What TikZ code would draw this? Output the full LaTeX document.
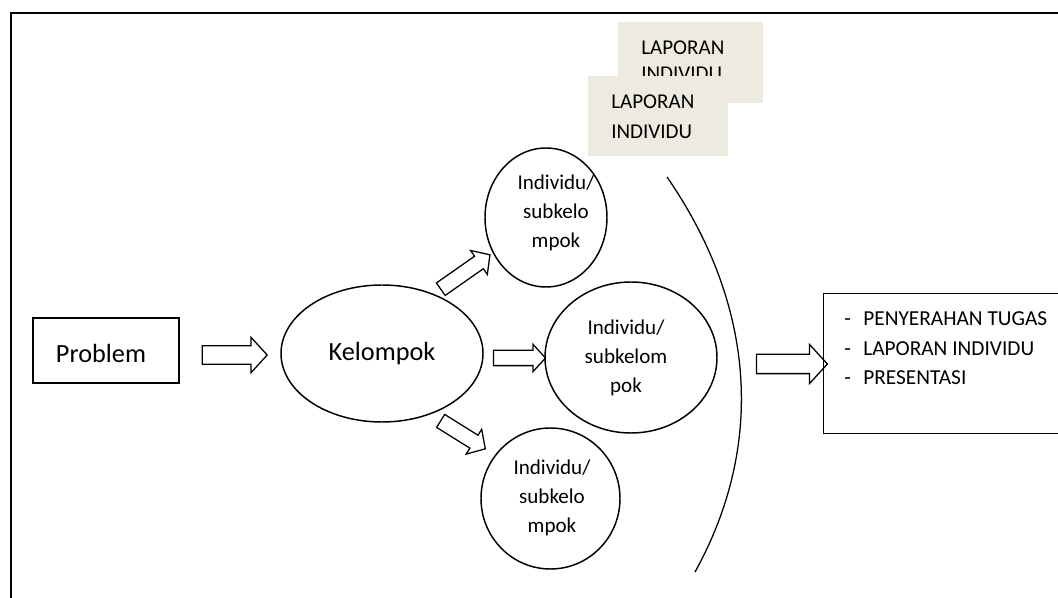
\documentclass[tikz,border=0pt]{standalone}
\usepackage{fontspec}
\setmainfont{Carlito}
\usetikzlibrary{shapes.geometric,shapes.arrows}
\definecolor{notebeige}{RGB}{237,235,224}
\begin{document}
\begin{tikzpicture}[x=0.75pt,y=-0.75pt,
  bubble/.style={draw, ellipse, line width=1.1pt, inner sep=0pt},
  blockarrow/.style={draw, single arrow, line width=0.95pt, inner xsep=0pt,
     single arrow tip angle=95, single arrow head indent=0pt, minimum width=0pt},
  smalltxt/.style={font=\fontsize{15.8pt}{22.1pt}\selectfont, align=center, inner sep=0pt, anchor=base},
  listtxt/.style={font=\fontsize{16pt}{22.1pt}\selectfont, inner sep=0pt, anchor=base west},
  bigtxt/.style={font=\fontsize{19.7pt}{24pt}\selectfont},
  notebox/.style={fill=notebeige, draw=none, inner sep=0pt}]
\useasboundingbox (0,0) rectangle (1058,598);
\clip (0,0) rectangle (1058,598);
% outer frame
\draw[line width=1.5pt] (11,610) -- (11,13) -- (1070,13);

% Problem
\node[draw, line width=1pt, minimum width=109.5pt, minimum height=48.75pt, inner sep=0pt] (problem) at (106,350.5) {};
\node[bigtxt, inner sep=0pt] (problemtxt) at (101,353) {Problem};

% Kelompok
\node[bubble, minimum width=151.5pt, minimum height=102.75pt, bigtxt] (kelompok) at (382,353.5) {Kelompok};

% individual circles
\node[bubble, minimum width=91.5pt, minimum height=104.25pt] (ind1) at (546,217.5) {};
\node[bubble, minimum width=129pt, minimum height=113.25pt] (ind2) at (631,357.5) {};
\node[bubble, minimum width=104.25pt, minimum height=105.75pt] (ind3) at (550.5,498.5) {};
\node[smalltxt] (ind1txt) at (556,248) {Individu/\\subkelo\\mpok};
\node[smalltxt] (ind2txt) at (626,393) {Individu/\\subkelom\\pok};
\node[smalltxt] (ind3txt) at (552,533) {Individu/\\subkelo\\mpok};

% block arrows
\node[blockarrow, minimum height=48.75pt, inner ysep=6.4pt, single arrow head extend=6.4pt] (arr1) at (230.5,355) {};
\node[blockarrow, minimum height=45pt, inner ysep=5.25pt, single arrow head extend=5.25pt, rotate=35] (arr2) at (462.5,274) {};
\node[blockarrow, minimum height=39pt, inner ysep=5.25pt, single arrow head extend=4.5pt] (arr3) at (516,358) {};
\node[blockarrow, minimum height=39.5pt, inner ysep=5.25pt, single arrow head extend=5.25pt, rotate=-32] (arr4) at (460,433) {};
\node[blockarrow, minimum height=53.25pt, inner ysep=6.75pt, single arrow head extend=7.5pt] (arr5) at (787.5,364) {};

% big arc
\coordinate (arctop) at (667,177);
\coordinate (arcbot) at (695,572);
\draw[line width=0.95pt] (arctop) .. controls (752,300) and (768,440) .. (arcbot);

% result box
\node[draw, line width=1pt, minimum width=186pt, minimum height=105pt, inner sep=0pt, anchor=north west] (result) at (823,293) {};
\node[listtxt] (l1) at (844,326) {-\hspace{9.4pt}PENYERAHAN TUGAS};
\node[listtxt] (l2) at (844,355.5) {-\hspace{9.4pt}LAPORAN INDIVIDU};
\node[listtxt] (l3) at (844,385) {-\hspace{9.4pt}PRESENTASI};

% laporan notes
\node[notebox, minimum width=108.75pt, minimum height=60.75pt] (note1) at (690.5,62.5) {};
\node[listtxt, font=\fontsize{15.8pt}{19.5pt}\selectfont] (note1a) at (641,54.5) {LAPORAN};
\node[listtxt, font=\fontsize{15.8pt}{19.5pt}\selectfont] (note1b) at (641,80.5) {INDIVIDU};
\node[notebox, minimum width=105pt, minimum height=60pt] (note2) at (658,116) {};
\node[listtxt, font=\fontsize{15.8pt}{19.5pt}\selectfont] (note2a) at (611,108.5) {LAPORAN};
\node[listtxt, font=\fontsize{15.8pt}{19.5pt}\selectfont] (note2b) at (611,138.5) {INDIVIDU};
\end{tikzpicture}
\end{document}
